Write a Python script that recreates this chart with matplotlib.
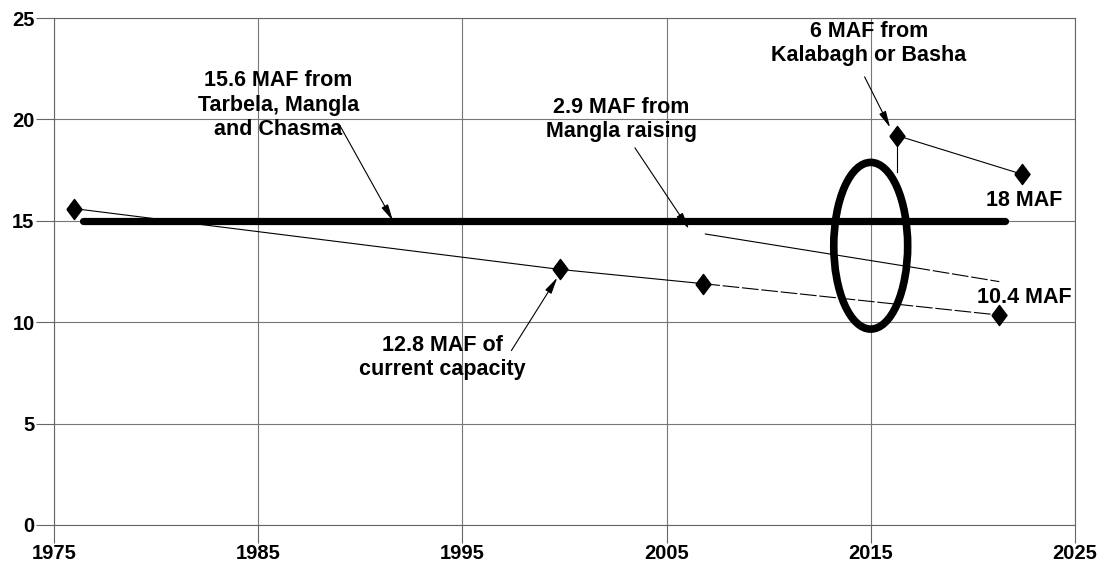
import matplotlib
matplotlib.use("Agg")
import matplotlib.pyplot as plt
from matplotlib.patches import Ellipse

plt.rcParams['font.family'] = ['Liberation Sans', 'DejaVu Sans']
plt.rcParams['lines.scale_dashes'] = False

# ---- data ----
x_ticks = [1975, 1985, 1995, 2005, 2015, 2025]
y_ticks = [0, 5, 10, 15, 20, 25]

current_years = [1976.0, 1999.8, 2006.8]
current_vals = [15.6, 12.6, 11.9]
current_proj_years = [2006.8, 2021.3]
current_proj_vals = [11.9, 10.35]

mangla_years = [2006.9, 2017.1]
mangla_vals = [14.35, 12.7]
mangla_proj_years = [2017.1, 2021.3]
mangla_proj_vals = [12.7, 12.0]

new_dam_years = [2016.3, 2022.4]
new_dam_vals = [19.2, 17.3]
new_dam_stem_years = [2016.3, 2016.3]
new_dam_stem_vals = [19.2, 17.4]

target_years = [1976.4, 2021.6]
target_vals = [15.0, 15.0]

ellipse_center = (2015.0, 13.77)
ellipse_size = (3.62, 8.22)

# ---- figure ----
fig = plt.figure(figsize=(11.07, 5.63), dpi=100)
ax = fig.add_axes([0.0488, 0.0675, 0.9222, 0.9005])
ax.set_xlim(1975, 2025)
ax.set_ylim(0, 25)
ax.set_xticks(x_ticks)
ax.set_yticks(y_ticks)
ax.set_xticklabels([str(t) for t in x_ticks], fontsize=14.5, fontweight='bold')
ax.set_yticklabels([str(t) for t in y_ticks], fontsize=14.5, fontweight='bold')
ax.tick_params(axis='both', direction='out', length=13, width=0.8, color='#666666', pad=1)
ax.grid(True, color='#777777', linewidth=0.8)
for s in ax.spines.values():
    s.set_color('#666666')
    s.set_linewidth(0.8)

diamond = [(-0.75, 0), (0, 1), (0.75, 0), (0, -1), (-0.75, 0)]
mk = dict(marker=diamond, markersize=14.5, markerfacecolor='black', markeredgecolor='black')

ax.plot(target_years, target_vals, color='black', linewidth=5.2, solid_capstyle='round', zorder=3)

ax.plot(current_years, current_vals, color='black', linewidth=0.8, zorder=4, **mk)
ax.plot(current_proj_years, current_proj_vals, color='black', linewidth=0.8,
        linestyle=(0, (12, 2)), zorder=4)
ax.plot(current_proj_years[-1:], current_proj_vals[-1:], linestyle='none', zorder=5, **mk)

ax.plot(mangla_years, mangla_vals, color='black', linewidth=0.8, zorder=4)
ax.plot(mangla_proj_years, mangla_proj_vals, color='black', linewidth=0.8,
        linestyle=(0, (12, 2)), zorder=4)

ax.plot(new_dam_years, new_dam_vals, color='black', linewidth=0.8, zorder=4, **mk)
ax.plot(new_dam_stem_years, new_dam_stem_vals, color='black', linewidth=0.8, zorder=4)

ax.add_patch(Ellipse(ellipse_center, ellipse_size[0], ellipse_size[1], fill=False,
                     edgecolor='black', linewidth=5.5, zorder=5))

tkw = dict(fontsize=15.5, fontweight='bold', ha='center', va='center', zorder=6,
           linespacing=1.2)
akw = dict(arrowstyle='-|>,head_length=1.0,head_width=0.22', color='black', lw=0.8,
           shrinkA=0, shrinkB=0)

ax.text(1986.0, 20.71, "15.6 MAF from\nTarbela, Mangla\nand Chasma", **tkw)
ax.annotate("", xy=(1991.6, 15.0), xytext=(1989.0, 19.7), arrowprops=akw, zorder=6)

ax.text(2002.8, 20.0, "2.9 MAF from\nMangla raising", **tkw)
ax.annotate("", xy=(2006.1, 14.6), xytext=(2003.45, 18.6), arrowprops=akw, zorder=6)

ax.text(2014.9, 23.75, "6 MAF from\nKalabagh or Basha", **tkw)
ax.annotate("", xy=(2015.95, 19.6), xytext=(2014.7, 22.1), arrowprops=akw, zorder=6)

ax.text(2022.5, 16.0, "18 MAF", **tkw)
ax.text(2022.5, 11.23, "10.4 MAF", **tkw)

ax.text(1994.0, 8.25, "12.8 MAF of\ncurrent capacity", **tkw)
ax.annotate("", xy=(1999.65, 12.2), xytext=(1997.4, 8.6), arrowprops=akw, zorder=6)

fig.savefig("out.png", dpi=100)
